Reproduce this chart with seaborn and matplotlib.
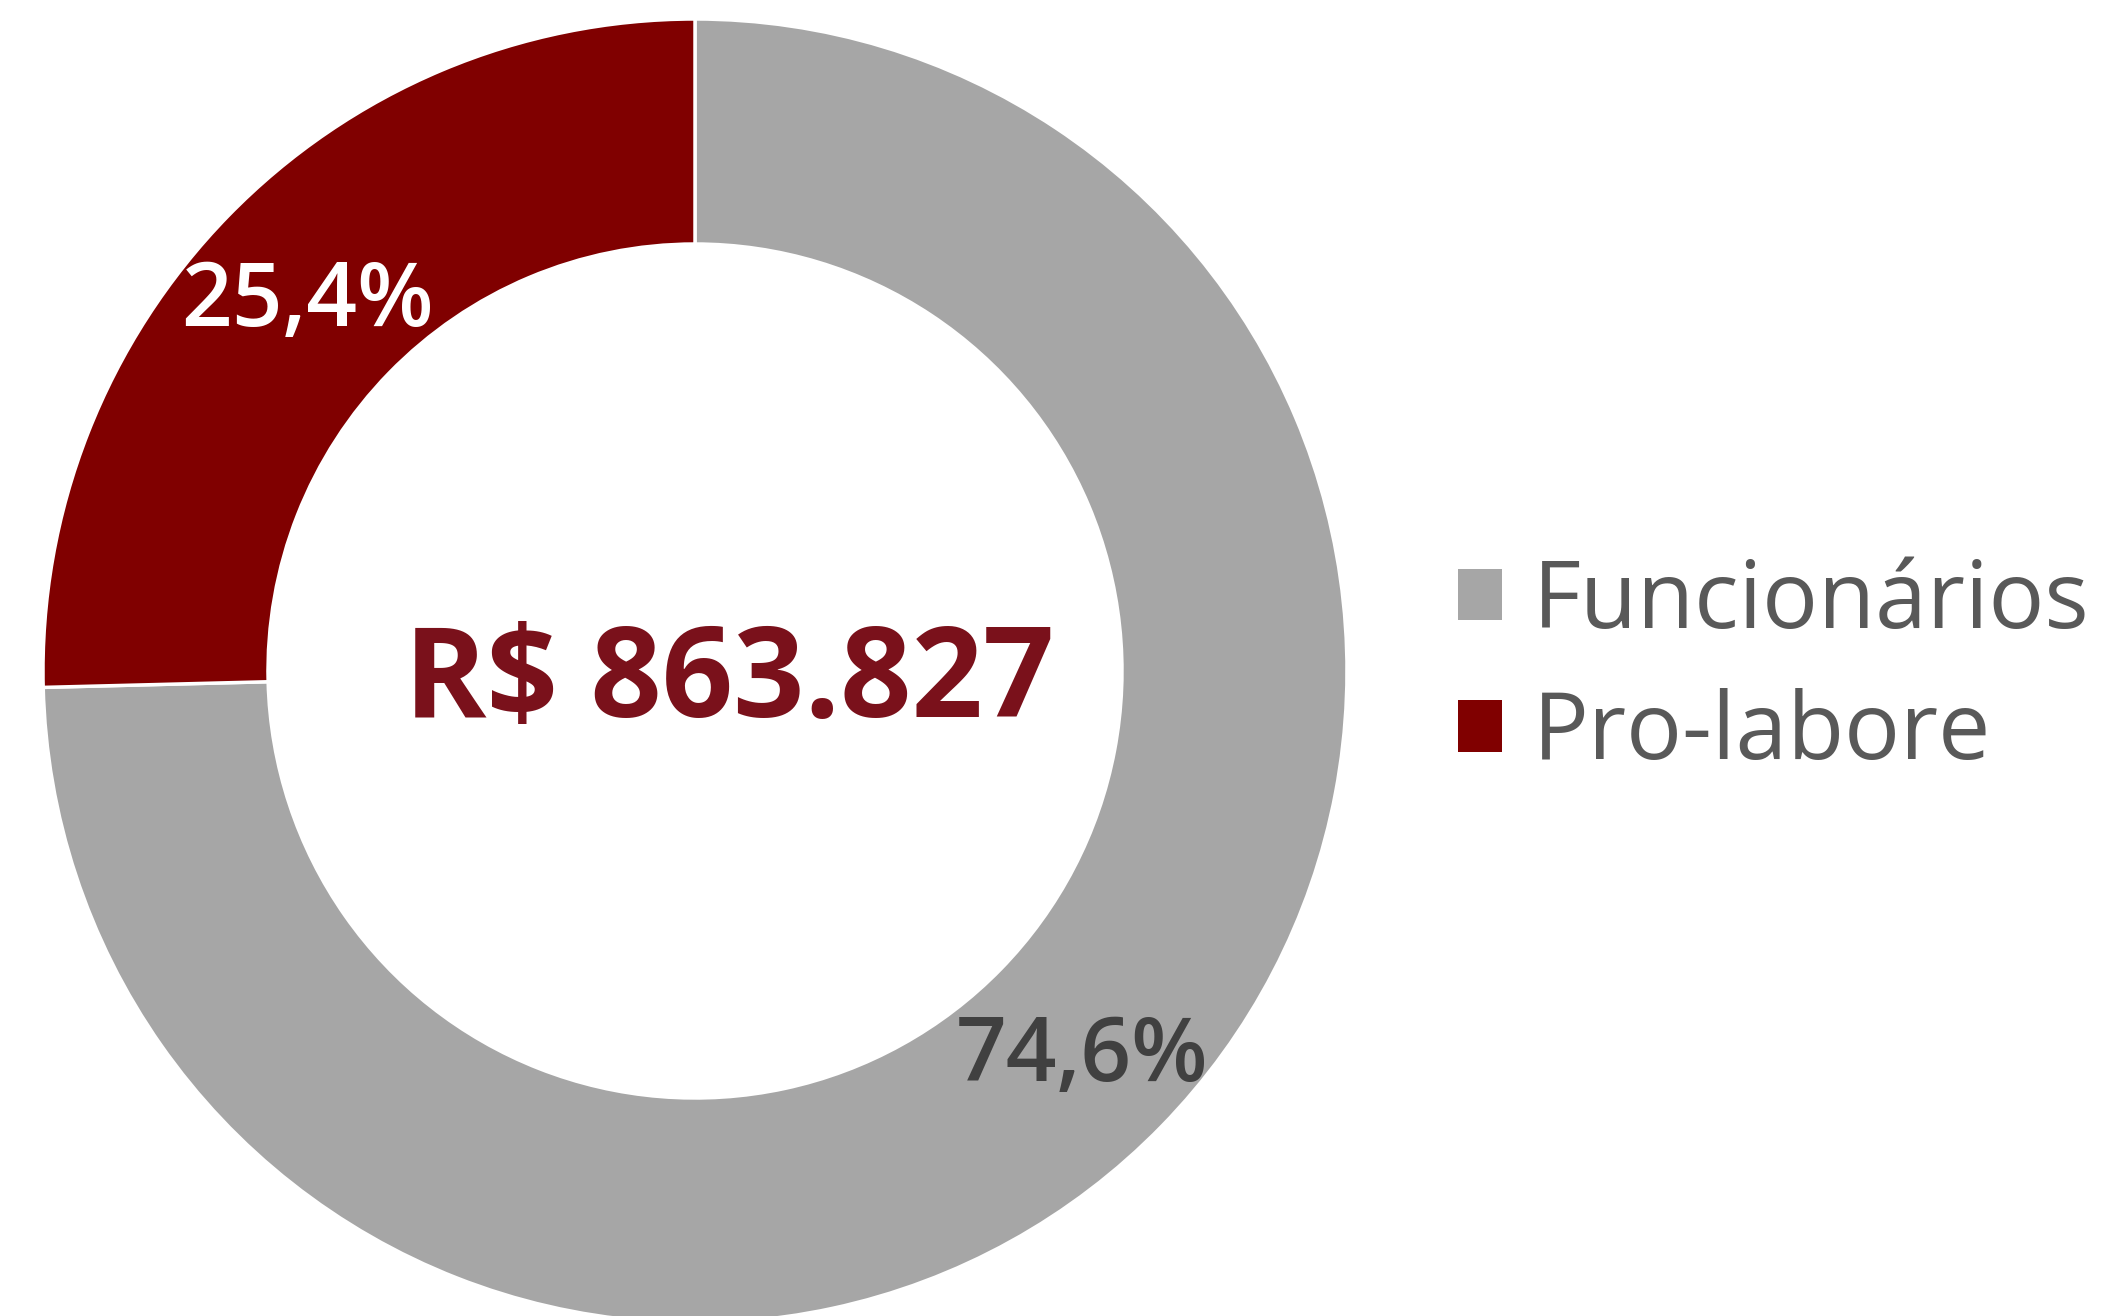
import matplotlib
matplotlib.use("Agg")
import matplotlib.pyplot as plt
import seaborn as sns

# ---- data ----
categories = ["Funcionários", "Pro-labore"]
shares = [74.6, 25.4]
total_value = 863827
colors = ["#A6A6A6", "#800000"]
label_colors = ["#404040", "#FFFFFF"]

sns.set_theme(style="white")
plt.rcParams["font.family"] = ["Open Sans", "DejaVu Sans"]

W, H = 2105, 1316
fig = plt.figure(figsize=(W / 100, H / 100), dpi=100)
fig.patch.set_facecolor("white")

cx, cy, R = 695, 671, 652
ax = fig.add_axes([(cx - R) / W, (H - cy - R) / H, 2 * R / W, 2 * R / H])
ax.set_axis_off()

def fmt(p):
    return f"{p:.1f}".replace(".", ",") + "%"

wedges, texts, autotexts = ax.pie(
    shares,
    colors=colors,
    startangle=90,
    counterclock=False,
    radius=1.0,
    pctdistance=0.83,
    autopct=fmt,
    wedgeprops=dict(width=225 / 652, edgecolor="white", linewidth=2.5),
    textprops=dict(fontsize=64, fontweight="semibold"),
)
for t, c in zip(autotexts, label_colors):
    t.set_color(c)
    x, y = t.get_position()
    t.set_position((x, y - 9 / R))
ax.set_xlim(-1, 1)
ax.set_ylim(-1, 1)
ax.set_aspect("equal")

center_label = "R$ " + f"{total_value:,}".replace(",", ".")
ax.text((729 - cx) / R, (cy - 717) / R, center_label, ha="center", va="baseline",
        fontsize=90, fontweight="bold", color="#7A111B")

leg = fig.legend(wedges, categories, loc="center left",
                 bbox_to_anchor=(1458 / W, 1 - 669 / H),
                 frameon=False, fontsize=67, labelcolor="#595959",
                 handlelength=0.47, handleheight=0.47, handletextpad=0.33,
                 labelspacing=0.41, borderpad=0, borderaxespad=0)
for h in leg.legend_handles:
    h.set_edgecolor("none")

fig.savefig("out.png", dpi=100)
